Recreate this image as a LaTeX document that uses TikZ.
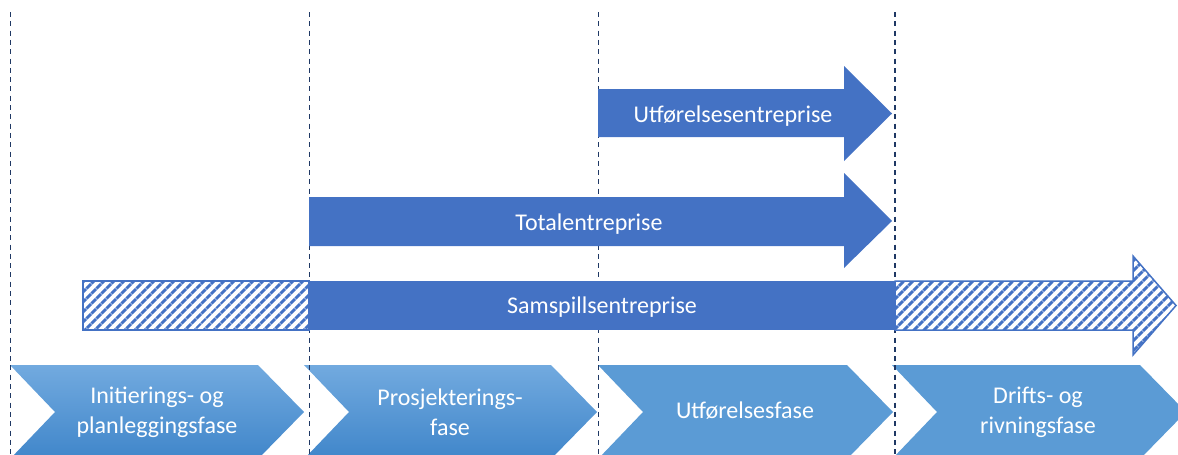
\documentclass[tikz,border=0pt]{standalone}
\usepackage{fontspec}
\setmainfont{Carlito}
\usetikzlibrary{patterns.meta}
\definecolor{arrowblue}{RGB}{68,114,196}
\definecolor{phaseblue}{RGB}{91,155,213}
\definecolor{phasetop}{RGB}{114,170,223}
\definecolor{phasebot}{RGB}{64,134,202}
\definecolor{dashnavy}{RGB}{31,56,100}
\begin{document}
\begin{tikzpicture}[x=1pt,y=-1pt,
  lbl/.style={text=white,font=\fontsize{24}{30}\selectfont,align=center,inner sep=0pt},
  hatch/.style={pattern={Lines[angle=45,distance=7.4pt,line width=3.4pt]},pattern color=arrowblue,draw=arrowblue,line width=1.5pt},
  guide/.style={draw=dashnavy,line width=1.2pt,dash pattern=on 5pt off 4.3pt},
  gradphase/.style={top color=phasetop,bottom color=phasebot,draw=none},
  flatphase/.style={fill=phaseblue,draw=none},
  solidarrow/.style={fill=arrowblue,draw=none}]
\useasboundingbox (0,0) rectangle (1178,455);
\clip (0,0) rectangle (1178,455);
% phase chevrons
\path[gradphase] (10,365) -- (258,365) -- (304,412) -- (258,459) -- (10,459) -- (55,412) -- cycle;
\path[gradphase] (304,365) -- (551,365) -- (597,412) -- (551,459) -- (304,459) -- (349,412) -- cycle;
\path[flatphase] (598,365) -- (847,365) -- (893,412) -- (847,459) -- (598,459) -- (643,412) -- cycle;
\path[flatphase] (892,365) -- (1140,365) -- (1186,412) -- (1140,459) -- (892,459) -- (937,412) -- cycle;
\node[lbl] (p1) at (157,412) {Initierings- og\\planleggingsfase};
\node[lbl] (p2) at (450,412) {Prosjekterings-\\fase};
\node[lbl] (p3) at (745,411) {Utførelsesfase};
\node[lbl] (p4) at (1038,412) {Drifts- og\\rivningsfase};
% dashed guides
\coordinate (g1t) at (10.5,12); \coordinate (g1b) at (10.5,455);
\coordinate (g2t) at (309.5,12); \coordinate (g2b) at (309.5,455);
\coordinate (g3t) at (598.5,12); \coordinate (g3b) at (598.5,455);
\coordinate (g4t) at (895,12); \coordinate (g4b) at (895,455);
\draw[guide] (g1t) -- (g1b);
\draw[guide] (g2t) -- (g2b);
\draw[guide] (g3t) -- (g3b);
\draw[guide] (g4t) -- (g4b);
% contract arrows
\path[solidarrow] (598,89) -- (844,89) -- (844,66) -- (892,113.5) -- (844,161) -- (844,137) -- (598,137) -- cycle;
\node[lbl] (utf) at (733,116) {Utførelsesentreprise};
\path[solidarrow] (309,197) -- (844,197) -- (844,173) -- (892,221) -- (844,268) -- (844,246) -- (309,246) -- cycle;
\node[lbl] (tot) at (589,224) {Totalentreprise};
\path[hatch] (83,281) rectangle (309,330);
\path[solidarrow] (309,281) rectangle (895,330);
\path[hatch] (895,281) -- (1133,281) -- (1133,256) -- (1176,305.5) -- (1133,355) -- (1133,330) -- (895,330) -- cycle;
\node[lbl] (sam) at (602,307) {Samspillsentreprise};
\end{tikzpicture}
\end{document}
